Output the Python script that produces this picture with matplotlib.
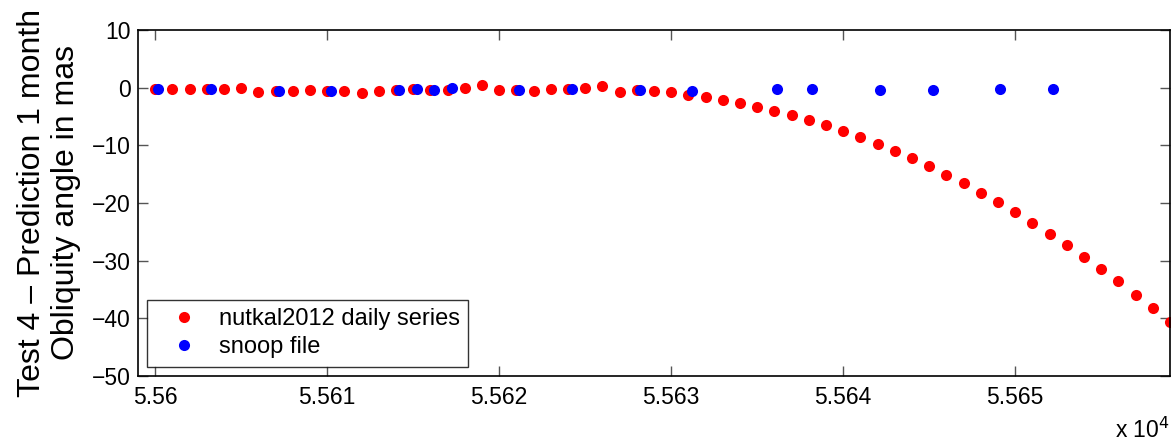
import matplotlib
matplotlib.use("Agg")
import matplotlib.pyplot as plt
from matplotlib.ticker import FuncFormatter, FixedLocator

plt.rcParams['font.family'] = ['Liberation Sans', 'DejaVu Sans']

# Red series: daily MJD values 55600..55659
red_mjd = list(range(55600, 55660))
red_val = [-0.2, -0.2, -0.3, -0.2, -0.2, -0.1, -0.7, -0.5, -0.5, -0.4,
           -0.5, -0.5, -0.9, -0.6, -0.4, -0.2, -0.45, -0.4, -0.05, 0.47,
           -0.4, -0.4, -0.5, -0.17, -0.2, -0.05, 0.3, -0.7, -0.4, -0.57,
           -0.8, -1.2, -1.56, -2.08, -2.65, -3.3, -3.99, -4.73, -5.6, -6.5,
           -7.46, -8.55, -9.76, -10.97, -12.24, -13.62, -15.08, -16.58, -18.2, -19.87,
           -21.6, -23.5, -25.3, -27.2, -29.3, -31.4, -33.6, -35.9, -38.2, -40.6]

# Blue series: snoop file
blue_mjd = [55600.19, 55603.26, 55607.19, 55610.23, 55614.2, 55615.2, 55616.2, 55617.24,
            55621.18, 55624.24, 55628.17, 55631.22, 55636.16, 55638.2, 55642.15, 55645.21,
            55649.14, 55652.21]
blue_val = [-0.2, -0.2, -0.5, -0.5, -0.4, -0.2, -0.45, -0.1,
            -0.4, -0.2, -0.4, -0.5, -0.3, -0.3, -0.4, -0.4,
            -0.2, -0.2]

x_ticks = [55600, 55610, 55620, 55630, 55640, 55650]
y_ticks = [10, 0, -10, -20, -30, -40, -50]

fig = plt.figure(figsize=(11.76, 4.44), dpi=100)
ax = fig.add_axes([138/1176, 1-376/444, (1170-138)/1176, (376-30)/444])

ax.plot(red_mjd, red_val, 'o', color='#ff0000', markersize=8, markeredgewidth=0,
        label='nutkal2012 daily series')
ax.plot(blue_mjd, blue_val, 'o', color='#0000ff', markersize=8, markeredgewidth=0,
        label='snoop file')

ax.set_xlim(55599, 55659)
ax.set_ylim(-50, 10)
ax.xaxis.set_major_locator(FixedLocator(x_ticks))
ax.yaxis.set_major_locator(FixedLocator(y_ticks))
ax.xaxis.set_major_formatter(FuncFormatter(lambda v, p: '%g' % round(v / 1e4, 4)))
ax.yaxis.set_major_formatter(FuncFormatter(lambda v, p: ('%d' % v).replace('-', '\u2212')))

ax.tick_params(direction='in', length=7, width=1, top=True, right=True,
               labelsize=16.5, color='#555555')
ax.tick_params(axis='y', pad=5)
ax.tick_params(axis='x', pad=7)
for s in ax.spines.values():
    s.set_linewidth(1.2)
    s.set_color('black')

fig.text(49/1176, 1-203/444, 'Test 4 \u2013 Prediction 1 month\nObliquity angle in mas',
         fontsize=23, rotation=90, ha='center', va='center', multialignment='center',
         linespacing=1.15)

fig.text(1170/1176, 1-430/444, r'x 10$^4$', fontsize=16.5, ha='right', va='center')

leg = ax.legend(loc='lower left', bbox_to_anchor=(8.5/1032, 9.5/346), fontsize=17,
                frameon=True, fancybox=False, borderpad=0.35, handletextpad=0.25,
                labelspacing=0.25, borderaxespad=0, handlelength=2.45, numpoints=1)
leg.get_frame().set_edgecolor('black')
leg.get_frame().set_linewidth(1.0)

fig.savefig('out.png', dpi=100)
